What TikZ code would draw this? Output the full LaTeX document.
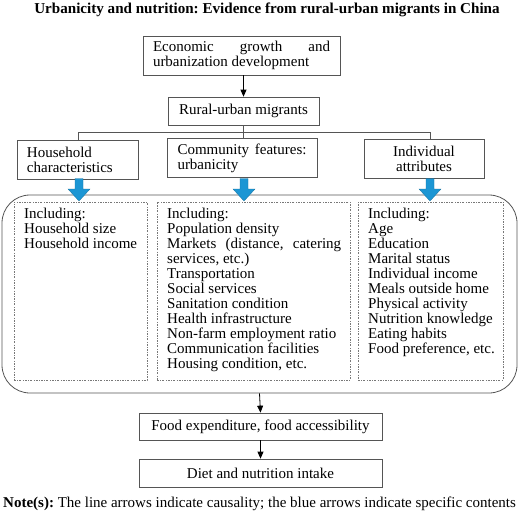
\documentclass[tikz,border=0pt]{standalone}
\usepackage{fontspec}
\setmainfont{Liberation Serif}
\usetikzlibrary{arrows.meta}
\definecolor{blu}{RGB}{28,150,212}
\definecolor{bord}{RGB}{85,85,85}
\definecolor{dotc}{RGB}{120,120,120}
\hyphenpenalty=10000
\exhyphenpenalty=10000
\tolerance=10000
\frenchspacing
\newcommand\fsz{\fontsize{15}{15}\selectfont}
\begin{document}
\begin{tikzpicture}[x=1pt,y=-1pt,
  box/.style={draw=bord, line width=0.7pt, inner sep=0pt, font=\fsz},
  dotbox/.style={draw=dotc, line width=0.6pt, inner sep=0pt, dash pattern=on 2pt off 1.4pt on 0.6pt off 1.4pt},
  listtxt/.style={inner sep=0pt, font=\fsz, anchor=north west},
  arr/.style={line width=0.8pt, -{Triangle[length=7pt,width=6pt]}},
  tree/.style={draw=bord, line width=0.7pt}]
\useasboundingbox (0,0) rectangle (520,520);
% title
\node[font=\bfseries\fontsize{15.1}{15}\selectfont, anchor=base, inner sep=0pt] (title) at (267,13.5) {Urbanicity and nutrition: Evidence from rural-urban migrants in China};
% top boxes
\node[box, minimum width=197pt, minimum height=39pt, text width=177pt, align=justify] (econ) at (241.5,55.5) {Economic growth and urbanization development};
\node[box, minimum width=151pt, minimum height=28pt] (mig) at (243.5,111) {Rural-urban migrants};
\node[box, minimum width=121pt, minimum height=39pt, text width=101pt, align=left] (hh) at (77.5,159.5) {Household\\characteristics};
\node[box, minimum width=150pt, minimum height=39pt, text width=129pt, align=justify] (comm) at (242,158) {Community features: urbanicity};
\node[box, minimum width=120pt, minimum height=39pt, align=center] (ind) at (424,158.8) {Individual\\attributes};
% connectors
\draw[arr] (mig.north |- econ.south) -- (mig.north);
\coordinate (jL) at (78,132);
\coordinate (jR) at (430,132);
\draw[tree] (mig.south) -- (mig.south |- comm.north);
\draw[tree] (jL |- hh.north) -- (jL) -- (jR) -- (jR |- ind.north);
% big container
\node[draw=bord, line width=0.8pt, rounded corners=28pt, minimum width=515pt, minimum height=198pt, inner sep=0pt] (big) at (259.5,294) {};
\node[dotbox, minimum width=133pt, minimum height=178pt] (dl) at (80.5,291) {};
\node[dotbox, minimum width=193pt, minimum height=178pt] (dm) at (253.5,291) {};
\node[dotbox, minimum width=145pt, minimum height=178pt] (dr) at (430.5,291) {};
\node[listtxt, align=left] (tl) at (24,207.5) {Including:\\Household size\\Household income};
\node[listtxt, text width=174pt, align=justify] (tm) at (167,207.5) {Including:\\Population density\\Markets (distance, catering services, etc.)\\Transportation\\Social services\\Sanitation condition\\Health infrastructure\\Non-farm employment ratio\\Communication facilities\\Housing condition, etc.};
\node[listtxt, align=left] (tr) at (368,207.5) {Including:\\Age\\Education\\Marital status\\Individual income\\Meals outside home\\Physical activity\\Nutrition knowledge\\Eating habits\\Food preference, etc.};
% blue arrows
\foreach \x in {79,244,430}
  \filldraw[fill=blu, draw=blu!75!black, line width=0.3pt] (\x-4,178.5) -- (\x+4,178.5) -- (\x+4,189) -- (\x+11,189) -- (\x,201) -- (\x-11,189) -- (\x-4,189) -- cycle;
% bottom boxes
\node[box, minimum width=243pt, minimum height=27pt] (food) at (260.5,426.5) {Food expenditure, food accessibility};
\node[box, minimum width=243pt, minimum height=28pt] (diet) at (260.5,473) {Diet and nutrition intake};
\draw[arr] (big.south) -- (food.north);
\draw[arr] (food.south) -- (diet.north);
% note
\node[font=\fontsize{15}{15}\selectfont, anchor=base west, inner sep=0pt] (note) at (3,507) {\textbf{Note(s):} The line arrows indicate causality; the blue arrows indicate specific contents};
\end{tikzpicture}
\end{document}
